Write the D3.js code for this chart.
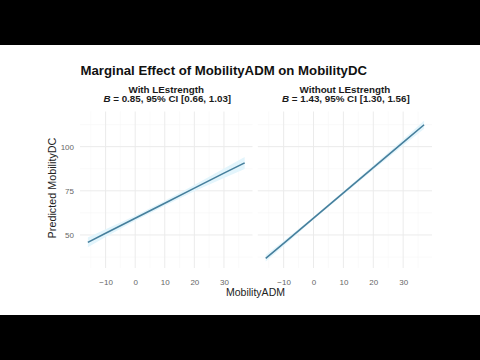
<!DOCTYPE html>
<html><head><meta charset="utf-8">
<script src="https://cdn.jsdelivr.net/npm/d3@7"></script>
<style>html,body{margin:0;padding:0;background:#000;}svg{display:block;}</style>
</head><body>
<script>
// ---- data ----
const xValues = [-16, -10, 0, 10, 20, 30, 37];
const withPred = [45.8, 51.0, 59.5, 68.0, 76.5, 85.0, 90.8];
const withLow  = [43.0, 48.8, 58.1, 66.6, 74.7, 82.3, 87.4];
const withHigh = [48.6, 53.2, 60.9, 69.4, 78.3, 87.7, 94.2];
const withoutPred = [36.8, 45.2, 59.5, 73.8, 88.1, 102.4, 112.4];
const withoutLow  = [35.0, 43.8, 58.7, 72.9, 86.9, 100.7, 110.2];
const withoutHigh = [38.6, 46.6, 60.3, 74.7, 89.3, 104.1, 114.6];
const panelTitles = ["With LEstrength", "Without LEstrength"];
const panelStats = [" = 0.85, 95% CI [0.66, 1.03]", " = 1.43, 95% CI [1.30, 1.56]"];
const xTicks = [-10, 0, 10, 20, 30];
const yTicks = [50, 75, 100];
const xLimits = [-18.65, 39.65];
const yLimits = [31.3, 119.9];

(function () {
const W = 480, H = 360;
const svg = d3.select("body").append("svg").attr("width", W).attr("height", H);
svg.append("rect").attr("width", W).attr("height", H).attr("fill", "#000");
svg.append("rect").attr("x", 0).attr("y", 45).attr("width", W).attr("height", 270).attr("fill", "#fff");

const font = "'Liberation Sans', Arial, sans-serif";
const panels = [
  {x0: 80, x1: 252.5, pred: withPred, low: withLow, high: withHigh},
  {x0: 257.8, x1: 432, pred: withoutPred, low: withoutLow, high: withoutHigh}
];
const pTop = 111.5, pBottom = 268;
const y = d3.scaleLinear().domain(yLimits).range([pBottom, pTop]);

svg.append("text").attr("x", 80.5).attr("y", 75).attr("font-family", font)
  .attr("font-weight", "bold").attr("font-size", 13.2).attr("fill", "#111")
  .text("Marginal Effect of MobilityADM on MobilityDC");

const minorX = [-15, -5, 5, 15, 25, 35];
const minorY = [37.5, 62.5, 87.5, 112.5];

panels.forEach((p, i) => {
  const x = d3.scaleLinear().domain(xLimits).range([p.x0, p.x1]);
  const g = svg.append("g");
  g.selectAll(".mx").data(minorX).join("line")
    .attr("x1", d => x(d)).attr("x2", d => x(d)).attr("y1", pTop).attr("y2", pBottom)
    .attr("stroke", "#f6f6f6").attr("stroke-width", 0.6);
  g.selectAll(".my").data(minorY).join("line")
    .attr("x1", p.x0).attr("x2", p.x1).attr("y1", d => y(d)).attr("y2", d => y(d))
    .attr("stroke", "#f6f6f6").attr("stroke-width", 0.6);
  g.selectAll(".gx").data(xTicks).join("line")
    .attr("x1", d => x(d)).attr("x2", d => x(d)).attr("y1", pTop).attr("y2", pBottom)
    .attr("stroke", "#ebebeb").attr("stroke-width", 1);
  g.selectAll(".gy").data(yTicks).join("line")
    .attr("x1", p.x0).attr("x2", p.x1).attr("y1", d => y(d)).attr("y2", d => y(d))
    .attr("stroke", "#ebebeb").attr("stroke-width", 1);

  const rows = xValues.map((v, k) => ({x: v, p: p.pred[k], lo: p.low[k], hi: p.high[k]}));
  g.append("path").datum(rows)
    .attr("d", d3.area().x(d => x(d.x)).y0(d => y(d.lo)).y1(d => y(d.hi)))
    .attr("fill", "#e3f5fc");
  g.append("path").datum(rows)
    .attr("d", d3.line().x(d => x(d.x)).y(d => y(d.p)))
    .attr("fill", "none").attr("stroke", "#467f9c").attr("stroke-width", 1.6);

  const ax = svg.append("g").attr("transform", `translate(0,${pBottom + 3})`)
    .call(d3.axisBottom(x).tickValues(xTicks).tickSize(0).tickPadding(8).tickFormat(d3.format("d")));
  ax.select(".domain").remove();
  ax.selectAll("text").attr("font-family", font).attr("font-size", 8).attr("fill", "#666");

  const cx = (p.x0 + p.x1) / 2;
  svg.append("text").attr("x", cx).attr("y", 92.7).attr("text-anchor", "middle")
    .attr("font-family", font).attr("font-weight", "bold").attr("font-size", 9.8).attr("fill", "#1a1a1a")
    .text(panelTitles[i]);
  const t = svg.append("text").attr("x", cx + 1).attr("y", 102.3).attr("text-anchor", "middle")
    .attr("font-family", font).attr("font-weight", "bold").attr("font-size", 9.8).attr("fill", "#1a1a1a");
  t.append("tspan").attr("font-style", "italic").text("B");
  t.append("tspan").text(panelStats[i]);
});

const ay = svg.append("g").attr("transform", `translate(${panels[0].x0 - 2},0)`)
  .call(d3.axisLeft(y).tickValues(yTicks).tickSize(0).tickPadding(4));
ay.select(".domain").remove();
ay.selectAll("text").attr("font-family", font).attr("font-size", 8).attr("fill", "#666");

svg.append("text").attr("transform", "translate(56,188) rotate(-90)").attr("text-anchor", "middle")
  .attr("font-family", font).attr("font-size", 10.8).attr("fill", "#222").text("Predicted MobilityDC");
svg.append("text").attr("x", 255.5).attr("y", 296).attr("text-anchor", "middle")
  .attr("font-family", font).attr("font-size", 10.5).attr("fill", "#222").text("MobilityADM");
})();
</script>
</body></html>
